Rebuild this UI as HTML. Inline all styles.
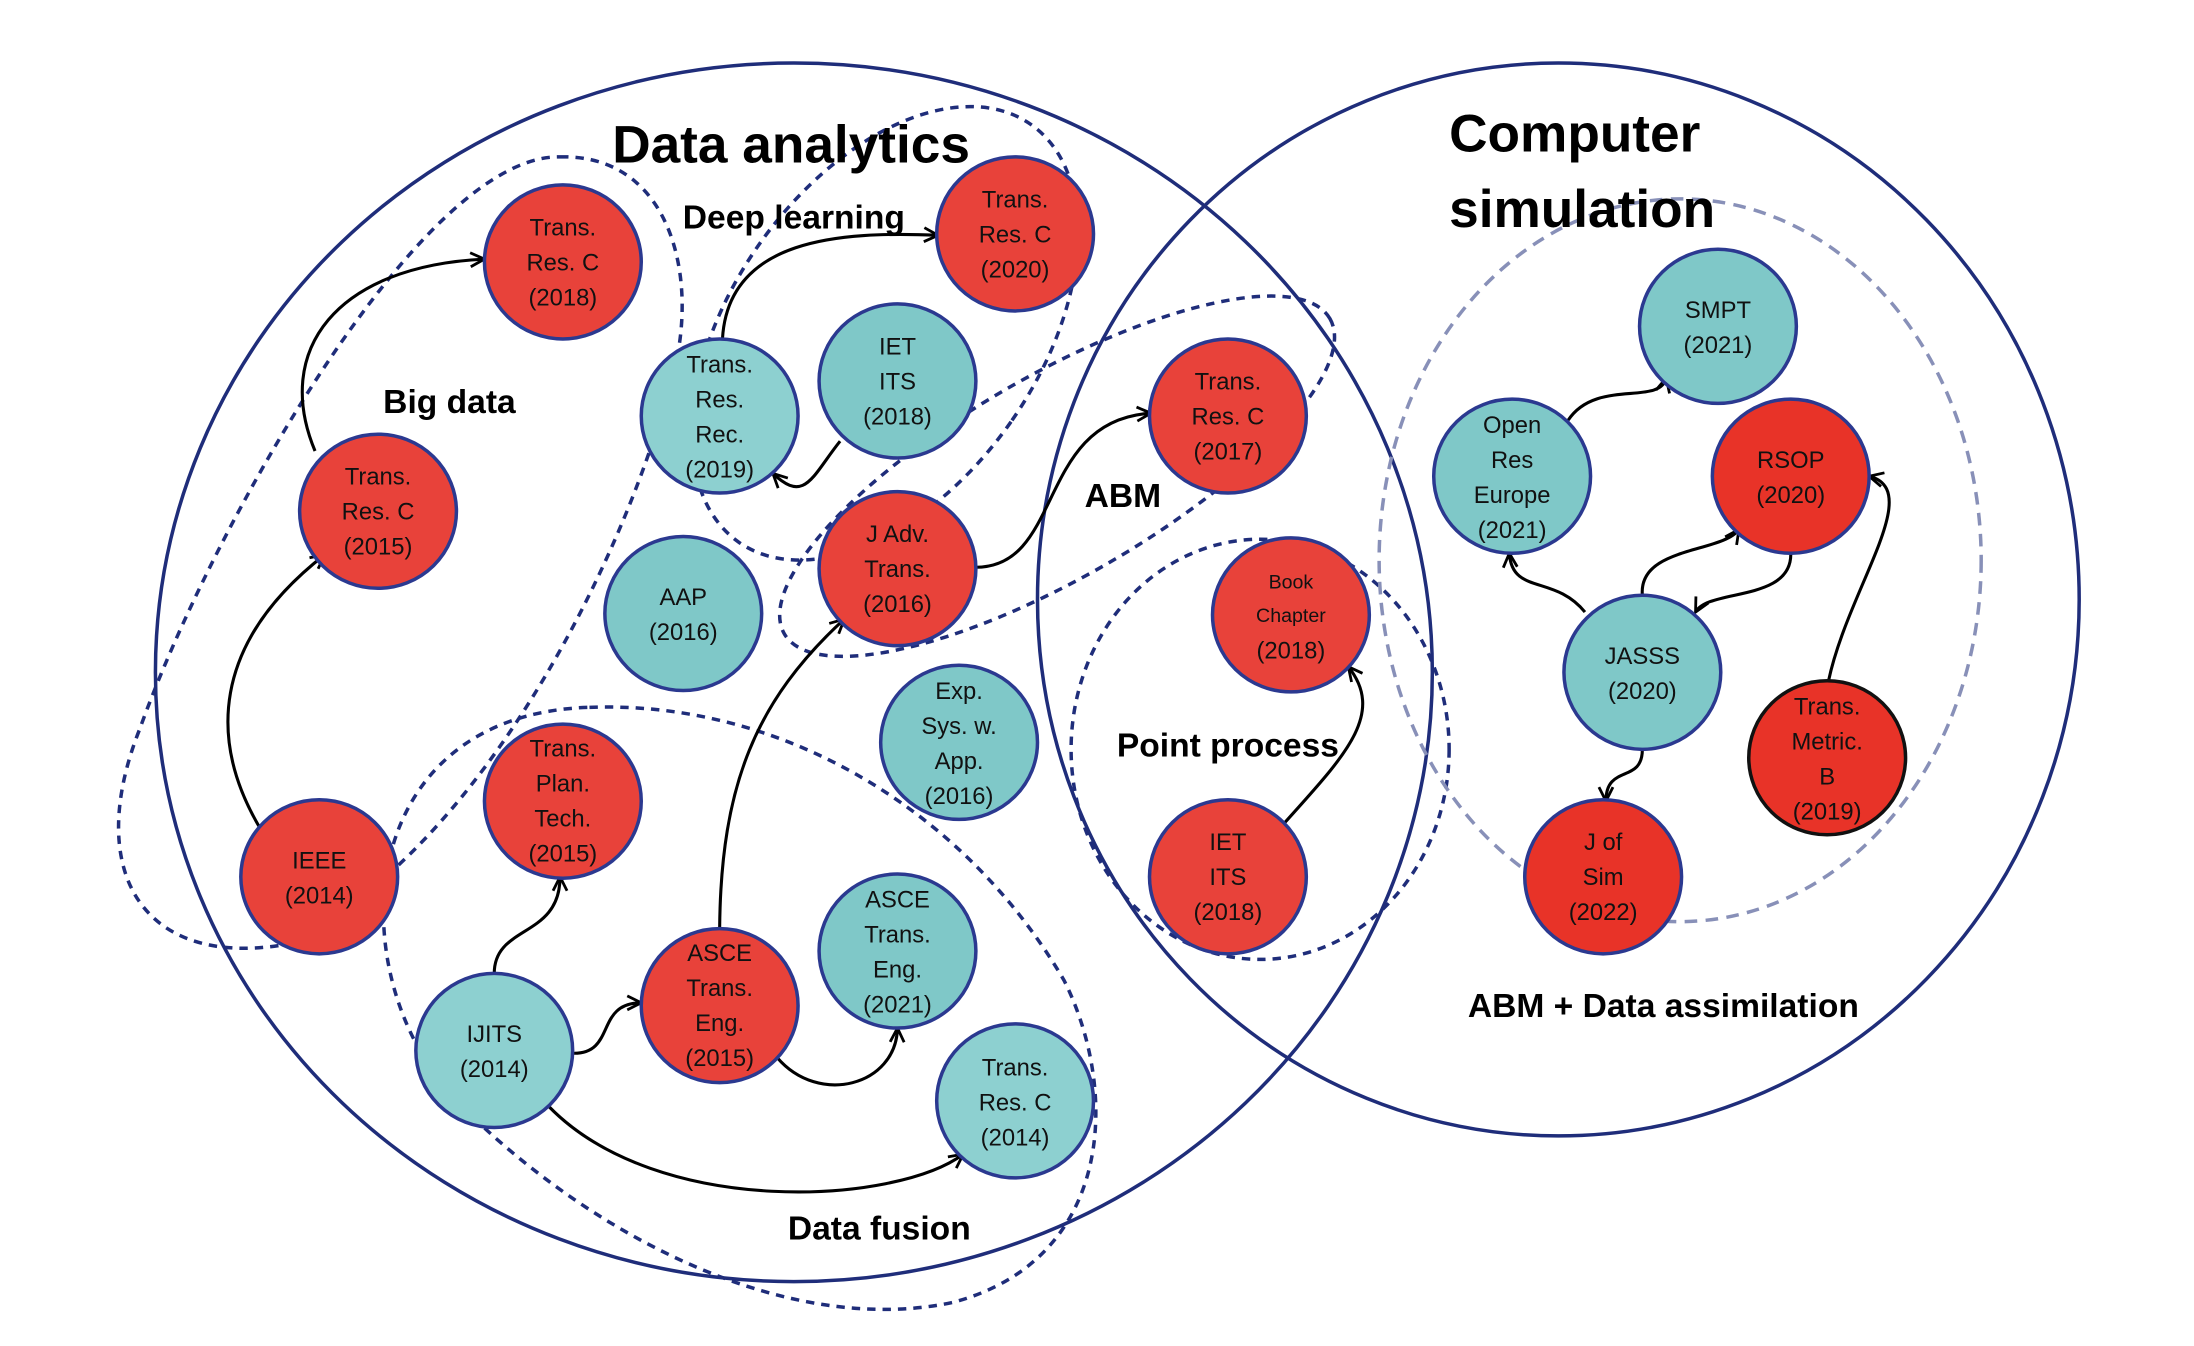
<!DOCTYPE html>
<html><head><meta charset="utf-8"><style>
html,body{margin:0;padding:0;background:#fff;overflow:hidden;width:2194px;height:1346px;}
svg{display:block}
text{font-family:"Liberation Sans",sans-serif;}
.n{font-size:17px;fill:#111;text-anchor:middle}
.lb{font-weight:bold;font-size:24px;fill:#000;text-anchor:middle}
.big{font-weight:bold;font-size:38px;fill:#000}
</style></head><body>
<svg width="2194" height="1346" viewBox="0 0 1567 961" preserveAspectRatio="none" xmlns="http://www.w3.org/2000/svg">
<defs>
<marker id="a" viewBox="0 0 12 12" refX="11" refY="6" markerWidth="12" markerHeight="12" markerUnits="userSpaceOnUse" orient="auto">
<polyline points="1,1 11,6 1,11" fill="none" stroke="#000" stroke-width="2"/></marker>
</defs>
<ellipse cx="567" cy="480" rx="456" ry="435" fill="none" stroke="#1f2d7a" stroke-width="2.5"/>
<ellipse cx="1113" cy="428" rx="372" ry="383" fill="none" stroke="#1f2d7a" stroke-width="2.5"/>
<g fill="none" stroke="#1f2d7a" stroke-width="2.5" stroke-dasharray="6,5">
<path d="M400 112 C480 110 500 200 480 270 C440 420 330 620 200 675 C100 690 60 620 100 520 C150 380 300 110 400 112 Z"/>
<ellipse cx="0" cy="0" rx="110" ry="182" transform="translate(632,238) rotate(35)"/>
<ellipse cx="0" cy="0" rx="225" ry="72" transform="translate(755,340) rotate(-30)"/>
<ellipse cx="900" cy="535" rx="135" ry="150"/>
<path d="M421 505 C560 500 690 580 760 700 C800 780 795 900 680 930 C560 955 420 880 330 790 C240 700 250 510 421 505 Z"/>
</g>
<ellipse cx="1200" cy="400" rx="215" ry="258" fill="none" stroke="#8890b8" stroke-width="2.5" stroke-dasharray="9,6"/>
<g fill="none" stroke="#000" stroke-width="2.2" marker-end="url(#a)">
<path d="M225 322 C195 250 240 190 346 185"/>
<path d="M185 590 C150 530 150 460 232 396"/>
<path d="M516 242 C520 170 600 165 670 168"/>
<path d="M600 315 C580 340 575 360 552 338"/>
<path d="M697 405 C760 405 740 300 822 295"/>
<path d="M514 662 C515 560 540 500 603 442"/>
<path d="M353 695 C353 660 400 670 400 626"/>
<path d="M410 752 C440 752 425 716 458 716"/>
<path d="M555 755 C585 790 640 775 641 734"/>
<path d="M392 790 C470 870 640 860 688 824"/>
<path d="M917 588 C960 540 990 510 963 476"/>
<path d="M1120 300 C1140 270 1185 290 1190 270"/>
<path d="M1132 437 C1110 410 1080 425 1078 395"/>
<path d="M1173 425 C1170 390 1230 395 1242 378"/>
<path d="M1279 395 C1280 430 1220 420 1211 437"/>
<path d="M1173 535 C1173 560 1147 545 1147 572"/>
<path d="M1306 486 C1320 420 1375 350 1335 340"/>
</g>
<g stroke="#2b3990" stroke-width="2.5">
<ellipse cx="402" cy="187" rx="56" ry="55" fill="#e8423a"/>
<ellipse cx="270" cy="365" rx="56" ry="55" fill="#e8423a"/>
<ellipse cx="228" cy="626" rx="56" ry="55" fill="#e8423a"/>
<ellipse cx="514" cy="297" rx="56" ry="55" fill="#8dd0d0"/>
<ellipse cx="641" cy="272" rx="56" ry="55" fill="#7fc8c8"/>
<ellipse cx="725" cy="167" rx="56" ry="55" fill="#e8423a"/>
<ellipse cx="641" cy="406" rx="56" ry="55" fill="#e8423a"/>
<ellipse cx="488" cy="438" rx="56" ry="55" fill="#7fc8c8"/>
<ellipse cx="685" cy="530" rx="56" ry="55" fill="#7fc8c8"/>
<ellipse cx="402" cy="572" rx="56" ry="55" fill="#e8423a"/>
<ellipse cx="353" cy="750" rx="56" ry="55" fill="#8dd0d0"/>
<ellipse cx="514" cy="718" rx="56" ry="55" fill="#e8423a"/>
<ellipse cx="641" cy="679" rx="56" ry="55" fill="#7fc8c8"/>
<ellipse cx="725" cy="786" rx="56" ry="55" fill="#8dd0d0"/>
<ellipse cx="877" cy="297" rx="56" ry="55" fill="#e8423a"/>
<ellipse cx="922" cy="439" rx="56" ry="55" fill="#e8423a"/>
<ellipse cx="877" cy="626" rx="56" ry="55" fill="#e8423a"/>
<ellipse cx="1227" cy="233" rx="56" ry="55" fill="#7fc8c8"/>
<ellipse cx="1080" cy="340" rx="56" ry="55" fill="#7fc8c8"/>
<ellipse cx="1279" cy="340" rx="56" ry="55" fill="#e83328"/>
<ellipse cx="1173" cy="480" rx="56" ry="55" fill="#7fc8c8"/>
<ellipse cx="1305" cy="541" rx="56" ry="55" fill="#e83328" stroke="#111"/>
<ellipse cx="1145" cy="626" rx="56" ry="55" fill="#e83328"/>
</g>
<g class="n">
<text x="402" y="168">Trans.</text><text x="402" y="193">Res. C</text><text x="402" y="218">(2018)</text>
<text x="270" y="346">Trans.</text><text x="270" y="371">Res. C</text><text x="270" y="396">(2015)</text>
<text x="228" y="620">IEEE</text><text x="228" y="645">(2014)</text>
<text x="514" y="266">Trans.</text><text x="514" y="291">Res.</text><text x="514" y="316">Rec.</text><text x="514" y="341">(2019)</text>
<text x="641" y="253">IET</text><text x="641" y="278">ITS</text><text x="641" y="303">(2018)</text>
<text x="725" y="148">Trans.</text><text x="725" y="173">Res. C</text><text x="725" y="198">(2020)</text>
<text x="641" y="387">J Adv.</text><text x="641" y="412">Trans.</text><text x="641" y="437">(2016)</text>
<text x="488" y="432">AAP</text><text x="488" y="457">(2016)</text>
<text x="685" y="499">Exp.</text><text x="685" y="524">Sys. w.</text><text x="685" y="549">App.</text><text x="685" y="574">(2016)</text>
<text x="402" y="540">Trans.</text><text x="402" y="565">Plan.</text><text x="402" y="590">Tech.</text><text x="402" y="615">(2015)</text>
<text x="353" y="744">IJITS</text><text x="353" y="769">(2014)</text>
<text x="514" y="686">ASCE</text><text x="514" y="711">Trans.</text><text x="514" y="736">Eng.</text><text x="514" y="761">(2015)</text>
<text x="641" y="648">ASCE</text><text x="641" y="673">Trans.</text><text x="641" y="698">Eng.</text><text x="641" y="723">(2021)</text>
<text x="725" y="768">Trans.</text><text x="725" y="793">Res. C</text><text x="725" y="818">(2014)</text>
<text x="877" y="278">Trans.</text><text x="877" y="303">Res. C</text><text x="877" y="328">(2017)</text>
<text x="922" y="420" font-size="14">Book</text><text x="922" y="444" font-size="14">Chapter</text><text x="922" y="470">(2018)</text>
<text x="877" y="607">IET</text><text x="877" y="632">ITS</text><text x="877" y="657">(2018)</text>
<text x="1227" y="227">SMPT</text><text x="1227" y="252">(2021)</text>
<text x="1080" y="309">Open</text><text x="1080" y="334">Res</text><text x="1080" y="359">Europe</text><text x="1080" y="384">(2021)</text>
<text x="1279" y="334">RSOP</text><text x="1279" y="359">(2020)</text>
<text x="1173" y="474">JASSS</text><text x="1173" y="499">(2020)</text>
<text x="1305" y="510">Trans.</text><text x="1305" y="535">Metric.</text><text x="1305" y="560">B</text><text x="1305" y="585">(2019)</text>
<text x="1145" y="607">J of</text><text x="1145" y="632">Sim</text><text x="1145" y="657">(2022)</text>
</g>
<text class="big" x="565" y="116" text-anchor="middle">Data analytics</text>
<text class="big" x="1035" y="108">Computer</text>
<text class="big" x="1035" y="162">simulation</text>
<text class="lb" x="567" y="163">Deep learning</text>
<text class="lb" x="321" y="295">Big data</text>
<text class="lb" x="802" y="362">ABM</text>
<text class="lb" x="877" y="540">Point process</text>
<text class="lb" x="628" y="885">Data fusion</text>
<text class="lb" x="1188" y="726">ABM + Data assimilation</text>
</svg>
</body></html>
